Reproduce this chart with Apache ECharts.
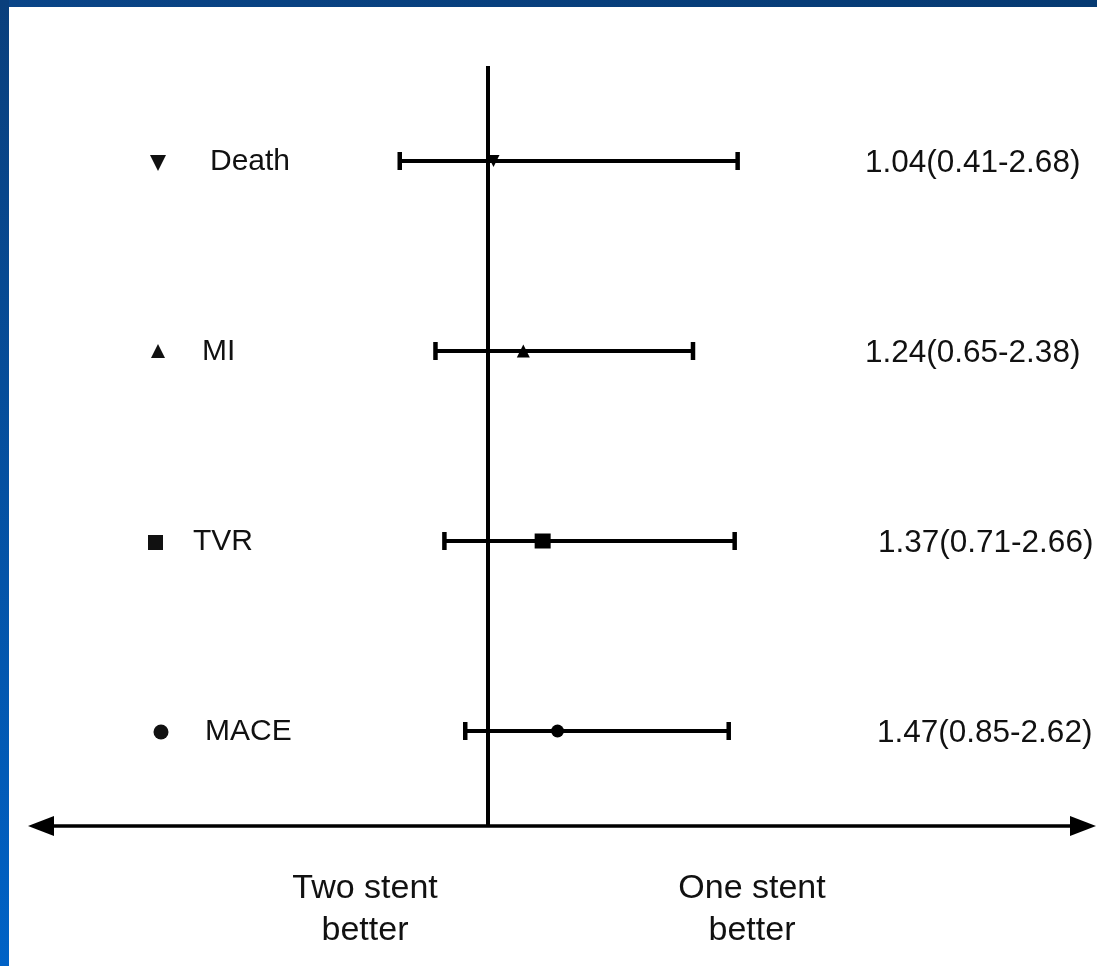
<!DOCTYPE html>
<html><head><meta charset="utf-8">
<script src="https://cdn.jsdelivr.net/npm/echarts@6/dist/echarts.min.js"></script>
<style>html,body{margin:0;padding:0;background:#fff;}#c{width:1097px;height:966px;}</style>
</head><body><div id="c"></div>
<script>
// ---- data ----
const outcomes = ['Death', 'MI', 'TVR', 'MACE'];
const estimates = [1.04, 1.24, 1.37, 1.47];
const lowerCI = [0.41, 0.65, 0.71, 0.85];
const upperCI = [2.68, 2.38, 2.66, 2.62];
const referenceValue = 1;
const favourLabels = ['Two stent\nbetter', 'One stent\nbetter'];

// ---- styling / layout (not data) ----
const FONT = '"Liberation Sans", Arial, Helvetica, sans-serif';
const markerStyle = {
  Death: { symbol: 'triangle', rotate: 180, size: 12 },
  MI:    { symbol: 'triangle', rotate: 0, size: 13 },
  TVR:   { symbol: 'rect', rotate: 0, size: [16, 15] },
  MACE:  { symbol: 'circle', rotate: 0, size: 13 }
};
const nameX = { Death: 210, MI: 202, TVR: 193, MACE: 205 };
const ciTextX = { Death: 865, MI: 865, TVR: 878, MACE: 877 };
const legendX = 158;

const chart = echarts.init(document.getElementById('c'), null, { renderer: 'canvas' });

const barData = outcomes.map((o, i) => [lowerCI[i], upperCI[i], i]);
const pointData = outcomes.map((o, i) => ({
  value: [estimates[i], i],
  symbol: markerStyle[o].symbol,
  symbolRotate: markerStyle[o].rotate,
  symbolSize: markerStyle[o].size
}));
const labelData = outcomes.map((o, i) => [estimates[i], i]);

function legendShape(name, x, y) {
  const s = { fill: '#111' };
  if (name === 'Death') return { type: 'polygon', shape: { points: [[x - 8, y - 7], [x + 8, y - 7], [x, y + 9]] }, style: s };
  if (name === 'MI') return { type: 'polygon', shape: { points: [[x - 7, y + 6], [x + 7, y + 6], [x, y - 8]] }, style: s };
  if (name === 'TVR') return { type: 'rect', shape: { x: x - 10, y: y - 7, width: 15, height: 15 }, style: s };
  return { type: 'circle', shape: { cx: x + 3, cy: y, r: 7.5 }, style: s };
}

const option = {
  backgroundColor: '#ffffff',
  animation: false,
  grid: { left: 41, right: 14, top: 66, bottom: 140, containLabel: false },
  xAxis: {
    type: 'value', min: -2, max: 5,
    splitLine: { show: false },
    axisTick: { show: false },
    axisLabel: { show: false },
    axisLine: {
      show: true, onZero: false,
      symbol: ['triangle', 'triangle'],
      symbolSize: [20, 26],
      lineStyle: { color: '#000', width: 3.5 }
    }
  },
  yAxis: {
    type: 'category', data: outcomes, inverse: true,
    axisLine: { show: false }, axisTick: { show: false },
    axisLabel: { show: false }, splitLine: { show: false }
  },
  series: [
    {
      type: 'custom',
      name: 'CI',
      data: barData,
      encode: { x: [0, 1], y: 2 },
      z: 3,
      renderItem: function (params, api) {
        const p1 = api.coord([api.value(0), api.value(2)]);
        const p2 = api.coord([api.value(1), api.value(2)]);
        const ls = { stroke: '#000', lineWidth: 4.2 };
        return {
          type: 'group',
          children: [
            { type: 'line', shape: { x1: p1[0], y1: p1[1], x2: p2[0], y2: p2[1] }, style: ls },
            { type: 'line', shape: { x1: p1[0], y1: p1[1] - 9, x2: p1[0], y2: p1[1] + 9 }, style: { stroke: '#000', lineWidth: 4.5 } },
            { type: 'line', shape: { x1: p2[0], y1: p2[1] - 9, x2: p2[0], y2: p2[1] + 9 }, style: { stroke: '#000', lineWidth: 4.5 } }
          ]
        };
      }
    },
    {
      type: 'scatter',
      name: 'Estimate',
      data: pointData,
      itemStyle: { color: '#000', opacity: 1 },
      z: 5,
      markLine: {
        silent: true,
        symbol: ['none', 'none'],
        label: { show: false },
        lineStyle: { color: '#000', width: 4, type: 'solid' },
        data: [{ xAxis: referenceValue }]
      }
    },
    {
      type: 'custom',
      name: 'Labels',
      data: labelData,
      encode: { x: 0, y: 1 },
      z: 6,
      renderItem: function (params, api) {
        const i = params.dataIndex;
        const name = outcomes[i];
        const y = api.coord([api.value(0), api.value(1)])[1];
        const txt = estimates[i].toFixed(2) + '(' + lowerCI[i].toFixed(2) + '-' + upperCI[i].toFixed(2) + ')';
        return {
          type: 'group',
          children: [
            legendShape(name, legendX, y + 1),
            { type: 'text', x: nameX[name], y: y + 1,
              style: { text: name, font: '30px ' + FONT, fill: '#111', textAlign: 'left', textVerticalAlign: 'middle' } },
            { type: 'text', x: ciTextX[name], y: y + 2,
              style: { text: txt, font: '31.5px ' + FONT, fill: '#111', textAlign: 'left', textVerticalAlign: 'middle' } }
          ]
        };
      }
    }
  ],
  graphic: [
    { type: 'rect', left: 0, top: 0, shape: { width: 1097, height: 7 }, z: 100,
      style: { fill: new echarts.graphic.LinearGradient(0, 0, 1, 0, [{ offset: 0, color: '#0a4588' }, { offset: 1, color: '#063a72' }]) } },
    { type: 'rect', left: 0, top: 0, shape: { width: 9, height: 966 }, z: 100,
      style: { fill: new echarts.graphic.LinearGradient(0, 0, 0, 1, [{ offset: 0, color: '#0a3f7c' }, { offset: 1, color: '#0062c6' }]) } },
    { type: 'text', x: 365, y: 868, z: 50,
      style: { text: favourLabels[0], font: '34px ' + FONT, fill: '#111', textAlign: 'center', textVerticalAlign: 'top', lineHeight: 42 } },
    { type: 'text', x: 752, y: 868, z: 50,
      style: { text: favourLabels[1], font: '34px ' + FONT, fill: '#111', textAlign: 'center', textVerticalAlign: 'top', lineHeight: 42 } }
  ]
};
chart.setOption(option);
</script>
</body></html>
